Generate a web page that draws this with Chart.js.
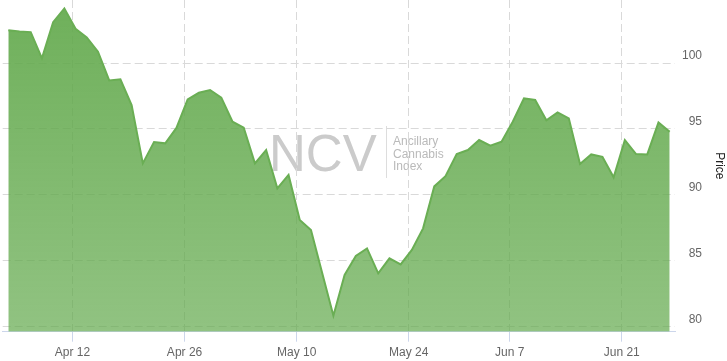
<!DOCTYPE html>
<html>
<head>
<meta charset="utf-8">
<script src="https://cdn.jsdelivr.net/npm/chart.js@4"></script>
<style>
  body { margin: 0; background: #fff; }
  canvas { display: block; }
</style>
</head>
<body>
<canvas id="chart" width="727" height="361"></canvas>
<script>
// trading days shown on the ordinal axis (one point per session)
const days = [
  '2021-04-01', '2021-04-05', '2021-04-06', '2021-04-07', '2021-04-08', '2021-04-09',
  '2021-04-12', '2021-04-13', '2021-04-14', '2021-04-15', '2021-04-16',
  '2021-04-19', '2021-04-20', '2021-04-21', '2021-04-22', '2021-04-23',
  '2021-04-26', '2021-04-27', '2021-04-28', '2021-04-29', '2021-04-30',
  '2021-05-03', '2021-05-04', '2021-05-05', '2021-05-06', '2021-05-07',
  '2021-05-10', '2021-05-11', '2021-05-12', '2021-05-13', '2021-05-14',
  '2021-05-17', '2021-05-18', '2021-05-19', '2021-05-20', '2021-05-21',
  '2021-05-24', '2021-05-25', '2021-05-26', '2021-05-27', '2021-05-28',
  '2021-06-01', '2021-06-02', '2021-06-03', '2021-06-04',
  '2021-06-07', '2021-06-08', '2021-06-09', '2021-06-10', '2021-06-11',
  '2021-06-14', '2021-06-15', '2021-06-16', '2021-06-17', '2021-06-18',
  '2021-06-21', '2021-06-22', '2021-06-23', '2021-06-24', '2021-06-25'
];

const prices = [
  102.5, 102.4, 102.35, 100.36, 103.1, 104.15,
  102.6, 101.95, 100.86, 98.68, 98.76,
  96.81, 92.38, 94.0, 93.9, 95.07,
  97.24, 97.74, 97.95, 97.37, 95.54,
  95.09, 92.38, 93.39, 90.48, 91.5,
  88.07, 87.31, 84.05, 80.81, 83.9,
  85.34, 85.92, 84.02, 85.16, 84.7,
  85.8, 87.44, 90.63, 91.4, 93.09,
  93.39, 94.15, 93.72, 94.02,
  95.54, 97.31, 97.19, 95.65, 96.25,
  95.8, 92.33, 93.06, 92.88, 91.32,
  94.15, 93.09, 93.06, 95.49, 94.78
];

const tickDates = ['2021-04-12', '2021-04-26', '2021-05-10', '2021-05-24', '2021-06-07', '2021-06-21'];
const tickLabels = ['Apr 12', 'Apr 26', 'May 10', 'May 24', 'Jun 7', 'Jun 21'];
const priceTicks = [80, 85, 90, 95, 100];
const priceMin = 79.59;
const priceMax = 104.79;

// points are stamped at the 20:00 UTC close, ticks at midnight
const CLOSE_HOUR = 20;
const pointTime = d => Date.parse(d + 'T00:00:00Z') + CLOSE_HOUR * 3600e3;

// where a midnight date falls between two sessions on the ordinal axis
const ordinalPos = d => {
  const t = Date.parse(d + 'T00:00:00Z');
  for (let i = 0; i < days.length - 1; i++) {
    const a = pointTime(days[i]);
    const b = pointTime(days[i + 1]);
    if (t >= a && t <= b) return i + (t - a) / (b - a);
  }
  return 0;
};

const fillGradient = (context) => {
  const { ctx, chartArea } = context.chart;
  if (!chartArea) return 'rgba(98,169,76,0.8)';
  const g = ctx.createLinearGradient(0, chartArea.top, 0, chartArea.bottom);
  g.addColorStop(0, 'rgba(98,169,76,0.92)');
  g.addColorStop(1, 'rgba(98,169,76,0.70)');
  return g;
};

// NCV logo behind the plot
const watermark = {
  id: 'watermark',
  beforeDraw(chart) {
    const { ctx } = chart;
    ctx.save();
    ctx.fillStyle = '#cbcbcb';
    ctx.font = '51px "Liberation Sans", Arial, sans-serif';
    ctx.textBaseline = 'alphabetic';
    ctx.fillText('NCV', 269, 170.7);
    ctx.strokeStyle = '#dddddd';
    ctx.lineWidth = 1;
    ctx.beginPath();
    ctx.moveTo(386.5, 126);
    ctx.lineTo(386.5, 178);
    ctx.stroke();
    ctx.fillStyle = '#bababa';
    ctx.font = '12px "Liberation Sans", Arial, sans-serif';
    ['Ancillary', 'Cannabis', 'Index'].forEach((t, i) => {
      ctx.fillText(t, 393, 145.3 + i * 12.5);
    });
    ctx.restore();
  }
};

Chart.defaults.font.family = '"Liberation Sans", Arial, sans-serif';
Chart.defaults.font.size = 12;

new Chart(document.getElementById('chart'), {
  type: 'line',
  data: {
    datasets: [{
      label: 'Price',
      data: prices.map((p, i) => ({ x: i, y: p })),
      borderColor: '#6aae54',
      borderWidth: 2,
      backgroundColor: fillGradient,
      fill: 'start',
      pointRadius: 0,
      tension: 0
    }]
  },
  options: {
    responsive: false,
    animation: false,
    layout: { padding: { left: 2.7, right: 0, top: 0, bottom: 0 } },
    plugins: {
      legend: { display: false },
      tooltip: { enabled: false }
    },
    scales: {
      x: {
        type: 'linear',
        min: -0.5,
        max: days.length - 0.5,
        afterBuildTicks: s => { s.ticks = tickDates.map(d => ({ value: ordinalPos(d) })); },
        afterFit: s => { s.height = 29.3; s.paddingLeft = 0; s.paddingRight = 0; },
        grid: { color: '#d9d9d9', tickColor: '#ccd6eb', tickLength: 10, tickBorderDash: [] },
        border: { color: '#ccd6eb', width: 1, dash: [8, 4] },
        ticks: {
          callback: (v, i) => tickLabels[i],
          color: '#666666',
          padding: 3.7,
          maxRotation: 0,
          autoSkip: false
        }
      },
      y: {
        position: 'right',
        weight: 0,
        min: priceMin,
        max: priceMax,
        afterBuildTicks: s => { s.ticks = priceTicks.map(v => ({ value: v })); },
        afterFit: s => { s.width = 26.7; s.paddingTop = 0; s.paddingBottom = 0; },
        grid: { color: '#d9d9d9', drawTicks: false },
        border: { display: false, dash: [8, 4] },
        ticks: { color: '#666666', padding: 7, crossAlign: 'far', labelOffset: -7 }
      },
      // separate box on the far right that only carries the axis title
      yTitle: {
        position: 'right',
        weight: 1,
        min: priceMin,
        max: priceMax,
        afterFit: s => { s.width = 25; s.paddingTop = 0; s.paddingBottom = 0; },
        grid: { display: false },
        border: { display: false },
        ticks: { display: false },
        title: {
          display: true,
          text: 'Price',
          color: '#222222',
          font: { size: 12 },
          padding: { top: 0, bottom: 0 }
        }
      }
    }
  },
  plugins: [watermark]
});
</script>
</body>
</html>
